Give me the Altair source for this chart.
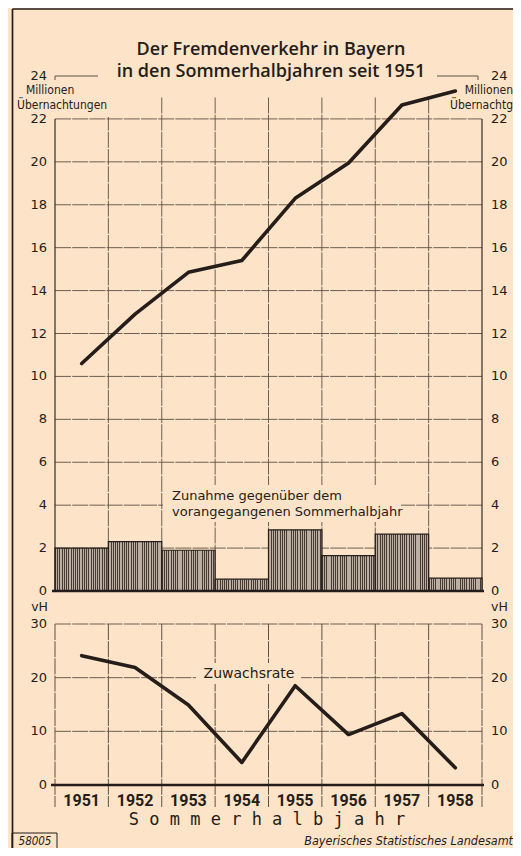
import altair as alt
import pandas as pd

# ---------------- data ----------------
years = [1951, 1952, 1953, 1954, 1955, 1956, 1957, 1958]
nights_mio = [10.6, 12.9, 14.85, 15.4, 18.3, 19.95, 22.65, 23.3]      # Millionen Übernachtungen
increase_mio = [2.0, 2.3, 1.9, 0.55, 2.85, 1.65, 2.65, 0.6]           # Zunahme gegenüber Vorjahr
growth_pct = [24.1, 21.9, 14.9, 4.2, 18.5, 9.4, 13.3, 3.2]            # Zuwachsrate vH

top_ticks = [0, 2, 4, 6, 8, 10, 12, 14, 16, 18, 20, 22, 24]
top_grid = [2, 4, 6, 8, 10, 12, 14, 16, 18, 20, 22]
bot_ticks = [0, 10, 20, 30]
bot_grid = [10, 20, 30]

title_lines = ["Der Fremdenverkehr in Bayern", "in den Sommerhalbjahren seit 1951"]
unit_top = ["Millionen", "Übernachtungen"]
unit_top_right = ["Millionen", "Übernachtg"]
unit_bot = "vH"
bar_note = ["Zunahme gegenüber dem", "vorangegangenen Sommerhalbjahr"]
line_note = "Zuwachsrate"
x_title = "S o m m e r h a l b j a h r"
footer_right = "Bayerisches Statistisches Landesamt"
footer_left = "58005"

# ---------------- style ----------------
BG = "#FDE3C7"
INK = "#241d19"
GRID = "#5e5046"
W, H = 427, 709

df = pd.DataFrame({"year": years, "val": nights_mio, "inc": increase_mio, "rate": growth_pct})
bounds = [y - 0.5 for y in years] + [years[-1] + 0.5]
df_b = pd.DataFrame({"b": bounds})
df_b_in = pd.DataFrame({"b": bounds[1:-1]})
df_b_edge = pd.DataFrame({"b": [bounds[0], bounds[-1]]})

xs = alt.Scale(domain=[bounds[0], bounds[-1]], nice=False, zero=False)
top_y = alt.Scale(domain=[0, 24], range=[515, 0], nice=False, zero=False)
bot_y = alt.Scale(domain=[0, 30], range=[709, 548], nice=False, zero=False)

one = pd.DataFrame({"a": [0]})


def label(text, x, y, size=13, align="left", font="DejaVu Sans", weight="normal", style="normal", baseline="alphabetic"):
    return alt.Chart(pd.DataFrame({"t": [text]})).mark_text(
        align=align, baseline=baseline, fontSize=size, font=font,
        fontWeight=weight, fontStyle=style, color=INK
    ).encode(x=alt.value(x), y=alt.value(y), text="t:N")


def prule(x, x2, y, y2, width=1.4, color=INK):
    return alt.Chart(one).mark_rule(color=color, strokeWidth=width).encode(
        x=alt.value(x), x2=alt.value(x2), y=alt.value(y), y2=alt.value(y2))


# frame
frame = [prule(-42.5, -42.5, -67, 800, 1.7), prule(-42.5, 470, -67, -67, 1.3)]

# top panel grid
DASH = [16, 1.2]
top_h = alt.Chart(pd.DataFrame({"v": top_grid})).mark_rule(
    color=GRID, strokeWidth=0.9, strokeDash=DASH).encode(
    y=alt.Y("v:Q", scale=top_y, axis=None), x=alt.value(0), x2=alt.value(W))
top_v_in = alt.Chart(df_b_in).mark_rule(color=GRID, strokeWidth=0.9, strokeDash=DASH).encode(
    x=alt.X("b:Q", scale=xs, axis=None),
    y=alt.YDatum(23, scale=top_y, axis=None), y2=alt.Y2Datum(0))
top_v_edge = alt.Chart(df_b_edge).mark_rule(color=INK, strokeWidth=1.1).encode(
    x=alt.X("b:Q", scale=xs, axis=None),
    y=alt.YDatum(22, scale=top_y, axis=None), y2=alt.Y2Datum(0))
seg24 = [prule(0, 43, 0, 0, 1.0, GRID), prule(0, 0, 0, 5, 1.0, GRID),
         prule(382, 423, 0, 0, 1.0, GRID), prule(423, 423, 0, 4, 1.0, GRID)]

# bottom panel grid
bot_h = alt.Chart(pd.DataFrame({"v": bot_grid})).mark_rule(
    color=GRID, strokeWidth=0.9, strokeDash=DASH).encode(
    y=alt.Y("v:Q", scale=bot_y, axis=None), x=alt.value(0), x2=alt.value(W))
bot_v = alt.Chart(df_b).mark_rule(color=GRID, strokeWidth=1.0, strokeDash=DASH).encode(
    x=alt.X("b:Q", scale=xs, axis=None),
    y=alt.YDatum(30, scale=bot_y, axis=None), y2=alt.value(731))

# cover boxes behind annotations
cover = [
    alt.Chart(one).mark_rect(fill=BG).encode(x=alt.value(108), x2=alt.value(346), y=alt.value(409), y2=alt.value(446)),
    alt.Chart(one).mark_rect(fill=BG).encode(x=alt.value(141), x2=alt.value(246), y=alt.value(587), y2=alt.value(608)),
    alt.Chart(one).mark_rect(fill=BG).encode(x=alt.value(-37), x2=alt.value(60), y=alt.value(4), y2=alt.value(41)),
]

# hatched bars (vertical stripes via hard-stop gradient)
n_str = 24
DARK, LIGHT = "#463b34", "#bcaea1"
stops = []
for i in range(n_str):
    a, m, b = i / n_str, (i + 0.42) / n_str, (i + 1) / n_str
    stops += [alt.GradientStop(color=DARK, offset=a), alt.GradientStop(color=DARK, offset=m),
              alt.GradientStop(color=LIGHT, offset=m), alt.GradientStop(color=LIGHT, offset=b)]
hatch = alt.LinearGradient(gradient="linear", stops=stops, x1=0, x2=1, y1=0, y2=0)

bars = alt.Chart(df).transform_calculate(x0="datum.year - 0.5", x1="datum.year + 0.5").mark_rect(
    fill=hatch, stroke=INK, strokeWidth=1.2).encode(
    x=alt.X("x0:Q", scale=xs, axis=None), x2="x1:Q",
    y=alt.Y("inc:Q", scale=top_y, axis=None), y2=alt.Y2Datum(0))

base_top = alt.Chart(one).mark_rule(color=INK, strokeWidth=2.6).encode(
    y=alt.YDatum(0, scale=top_y, axis=None), x=alt.value(-3), x2=alt.value(W + 2))
base_bot = alt.Chart(one).mark_rule(color=INK, strokeWidth=2.6).encode(
    y=alt.YDatum(0, scale=bot_y, axis=None), x=alt.value(-4), x2=alt.value(W + 2))

line_top = alt.Chart(df).mark_line(color=INK, strokeWidth=3.6, strokeCap="round", strokeJoin="round").encode(
    x=alt.X("year:Q", scale=xs, axis=None), y=alt.Y("val:Q", scale=top_y, axis=None))
line_bot = alt.Chart(df).mark_line(color=INK, strokeWidth=3.6, strokeCap="round", strokeJoin="round").encode(
    x=alt.X("year:Q", scale=xs, axis=None), y=alt.Y("rate:Q", scale=bot_y, axis=None))


# tick labels
def ticks(vals, scale, x, align):
    return alt.Chart(pd.DataFrame({"v": vals})).mark_text(
        align=align, baseline="middle", fontSize=13, font="DejaVu Sans", color=INK).encode(
        x=alt.value(x), y=alt.Y("v:Q", scale=scale, axis=None), text="v:Q")


tick_layers = [ticks(top_ticks, top_y, -8, "right"), ticks(top_ticks, top_y, 436, "left"),
               ticks(bot_ticks, bot_y, -8, "right"), ticks(bot_ticks, bot_y, 436, "left")]

year_lbl = alt.Chart(df).mark_text(fontSize=16, font="Roboto", fontWeight="bold", color=INK,
                                   baseline="alphabetic").encode(
    x=alt.X("year:Q", scale=xs, axis=None), y=alt.value(730), text="year:N")

texts = [
    label(title_lines[0], 216, -21, 18, "center", "Open Sans", 600),
    label(title_lines[1], 216, 1, 18, "center", "Open Sans", 600),
    label(unit_top[0], -29, 18, 12, "left", "DejaVu Sans Condensed"),
    label(unit_top[1], -38, 33, 12, "left", "DejaVu Sans Condensed"),
    label(unit_top_right[0], 458, 18, 12, "right", "DejaVu Sans Condensed"),
    label(unit_top_right[1], 458, 33, 12, "right", "DejaVu Sans Condensed"),
    label(unit_bot, -7, 535, 12.5, "right"),
    label(unit_bot, 436, 535, 12.5, "left"),
    label(bar_note[0], 117, 424, 13, "left"),
    label(bar_note[1], 117, 440, 13, "left"),
    label(line_note, 194, 602, 14, "center"),
    label(x_title, 212, 749, 17, "center", "DejaVu Sans Mono"),
    label(footer_right, 458, 769, 12.5, "right", "DejaVu Sans Condensed", "normal", "italic"),
    alt.Chart(one).mark_rect(fill=None, stroke=INK, strokeWidth=1.0).encode(
        x=alt.value(-43), x2=alt.value(2), y=alt.value(757), y2=alt.value(790)),
    label(footer_left, -20, 769, 11.5, "center", "DejaVu Sans Condensed", "normal", "italic"),
]

layers = (frame + [top_h, top_v_in, top_v_edge] + seg24 + [bot_h, bot_v] + cover +
          [bars, base_top, base_bot, line_top, line_bot] + tick_layers + [year_lbl] + texts)

chart = alt.layer(*layers).resolve_scale(y="independent").properties(
    width=W, height=H,
    autosize=alt.AutoSizeParams(type="none"),
    padding={"left": 47, "top": 68, "right": 31, "bottom": 63},
    background=BG,
).configure_view(stroke=None)

chart.save("out.html", embed_options={"renderer": "svg", "actions": False})
